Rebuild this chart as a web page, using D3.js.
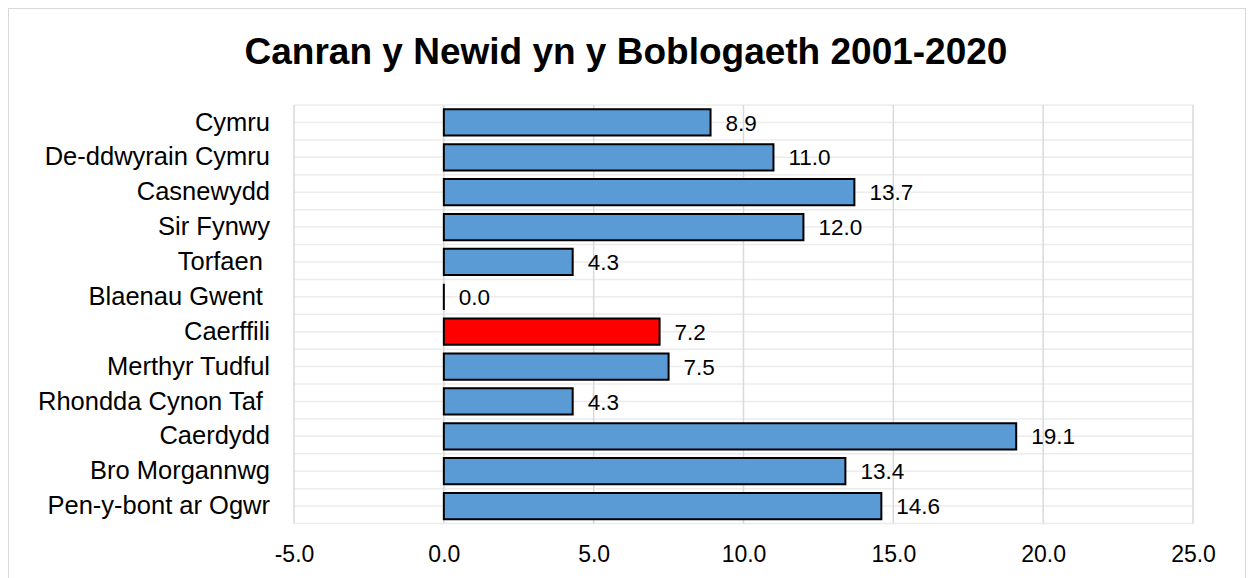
<!DOCTYPE html>
<html>
<head>
<meta charset="utf-8">
<script src="https://cdn.jsdelivr.net/npm/d3@7"></script>
<style>
  html, body { margin: 0; padding: 0; background: #fff; }
  svg { display: block; font-family: Arial, "Liberation Sans", sans-serif; }
</style>
</head>
<body>
<svg id="chart" width="1254" height="578"></svg>
<script>
const title = "Canran y Newid yn y Boblogaeth 2001-2020";
const categories = ["Cymru", "De-ddwyrain Cymru", "Casnewydd", "Sir Fynwy", "Torfaen ", "Blaenau Gwent ", "Caerffili", "Merthyr Tudful", "Rhondda Cynon Taf ", "Caerdydd", "Bro Morgannwg", "Pen-y-bont ar Ogwr"];
const values = [8.9, 11.0, 13.7, 12.0, 4.3, 0.0, 7.2, 7.5, 4.3, 19.1, 13.4, 14.6];
const highlighted = ["Caerffili"];
const xTicks = [-5, 0, 5, 10, 15, 20, 25];

const FONT = "Arial, 'Liberation Sans', sans-serif";
const fmt = v => v.toFixed(1);

const svg = d3.select("#chart");
const plot = { left: 294, right: 1193, top: 105, bottom: 523.5 };

svg.append("rect").attr("x", 8.5).attr("y", 8.5).attr("width", 1237).attr("height", 600)
  .attr("fill", "#fff").attr("stroke", "#d9d9d9").attr("stroke-width", 1);

const x = d3.scaleLinear().domain([-5, 25]).range([plot.left, plot.right]);
const y = d3.scaleBand().domain(categories).range([plot.top, plot.bottom]).paddingInner(0.25).paddingOuter(0.125);
const yRow = d3.scaleBand().domain(categories).range([plot.top, plot.bottom]);

// horizontal gridlines (major + minor at row centers)
const hLines = [];
categories.forEach(c => { hLines.push(yRow(c)); hLines.push(yRow(c) + yRow.bandwidth() / 2); });
hLines.push(plot.bottom);
svg.append("g").selectAll("line").data(hLines).join("line")
  .attr("x1", plot.left).attr("x2", plot.right)
  .attr("y1", d => d).attr("y2", d => d)
  .attr("stroke", "#ececec").attr("stroke-width", 1.5);

// vertical gridlines
svg.append("g").selectAll("line").data(xTicks).join("line")
  .attr("x1", d => x(d)).attr("x2", d => x(d))
  .attr("y1", plot.top).attr("y2", plot.bottom)
  .attr("stroke", "#d9d9d9").attr("stroke-width", 1.5);

// x axis labels
const xAxis = d3.axisBottom(x).tickValues(xTicks).tickFormat(fmt).tickSize(0).tickPadding(0);
const gx = svg.append("g").attr("transform", `translate(0,${plot.bottom})`).call(xAxis);
gx.select(".domain").remove();
gx.selectAll("text").attr("y", 38.5).attr("dy", null)
  .attr("font-size", 23).attr("fill", "#000").attr("font-family", FONT);

// y axis labels
const yAxis = d3.axisLeft(yRow).tickSize(0).tickPadding(24);
const gy = svg.append("g").attr("transform", `translate(${plot.left},0)`).call(yAxis);
gy.select(".domain").remove();
gy.selectAll("text").attr("font-size", 25.5).attr("fill", "#000").style("white-space", "pre")
  .attr("font-family", FONT);

// bars (paths so zero-length bars still show their outline)
svg.append("g").selectAll("path").data(categories).join("path")
  .attr("d", (d, i) => {
    const p = d3.path();
    p.rect(x(0), y(d), x(values[i]) - x(0), y.bandwidth());
    return p.toString();
  })
  .attr("fill", d => highlighted.includes(d) ? "#ff0000" : "#5b9bd5")
  .attr("stroke", "#000").attr("stroke-width", 2);

// value labels
svg.append("g").selectAll("text").data(categories).join("text")
  .attr("x", (d, i) => x(values[i]) + 15)
  .attr("y", d => yRow(d) + yRow.bandwidth() / 2)
  .attr("dy", "0.36em")
  .attr("font-size", 22.5)
  .attr("font-family", FONT)
  .attr("fill", "#000")
  .text((d, i) => fmt(values[i]));

// title
svg.append("text").attr("x", 626).attr("y", 64).attr("text-anchor", "middle")
  .attr("font-size", 37).attr("font-weight", "bold").attr("fill", "#000")
  .attr("font-family", FONT)
  .text(title);
</script>
</body>
</html>
